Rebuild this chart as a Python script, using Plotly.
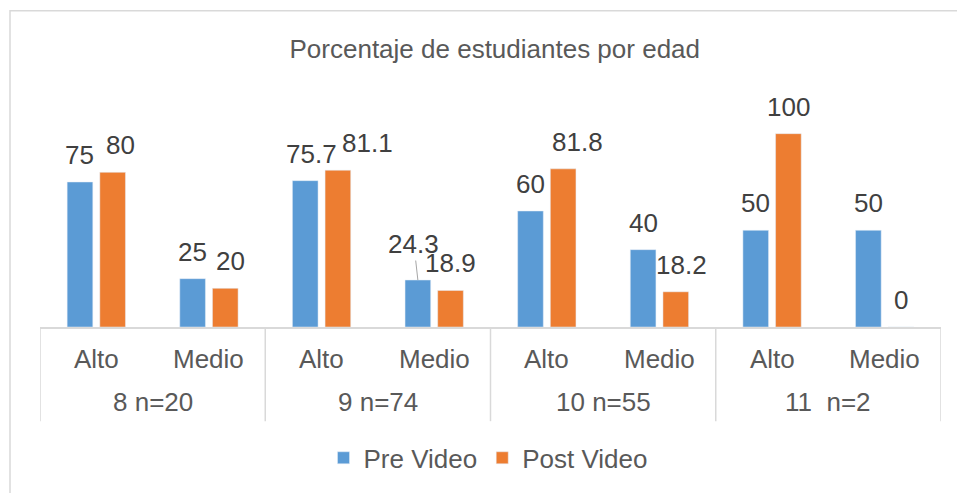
import plotly.graph_objects as go

# ---- data ----
groups = ["8 n=20", "9 n=74", "10 n=55", "11  n=2"]
levels = ["Alto", "Medio"]
pre_video = [75, 25, 75.7, 24.3, 60, 40, 50, 50]
post_video = [80, 20, 81.1, 18.9, 81.8, 18.2, 100, 0]
series_names = ["Pre Video", "Post Video"]

# ---- style ----
BLUE = "#5B9BD5"
ORANGE = "#ED7D31"
GRID = "#D9D9D9"
TXT = "#595959"
LBL = "#404040"
FONT = "Liberation Sans, Arial, sans-serif"
FS = 26

W, H = 957, 493
L, R, T, B = 40, 16, 95, 164
plot_h = H - T - B
BARGAP = 0.42
BARGROUPGAP = 0.215

cats = [(g, lv) for g in groups for lv in levels]
xs = list(range(len(cats)))

fig = go.Figure()
fig.add_trace(go.Bar(x=xs, y=pre_video, name=series_names[0], marker_color=BLUE))
fig.add_trace(go.Bar(x=xs, y=post_video, name=series_names[1], marker_color=ORANGE))

def py(pixel_y):
    # pixel row -> paper y
    return (H - B - pixel_y) / plot_h

def px(pixel_x):
    return (pixel_x - L) / (W - L - R)

annotations = []
off = (1 - BARGAP) / 4.0
# per-label nudges (pixels) for labels that were moved in the original
nudge_pre = {2: 6}
nudge_post = {0: 8, 1: 5, 2: 30, 4: 14, 5: 6}
for i, (a, b) in enumerate(zip(pre_video, post_video)):
    if i == 3:
        annotations.append(dict(x=i - off, y=a, xref="x", yref="y", text=f"{a:g}",
                                showarrow=True, arrowhead=0, arrowwidth=1, arrowcolor="#A6A6A6",
                                ax=-4, ay=-36, font=dict(family=FONT, size=FS, color=LBL)))
    else:
        annotations.append(dict(x=i - off, y=a, xref="x", yref="y", text=f"{a:g}", showarrow=False,
                                yanchor="middle", yshift=27, xshift=nudge_pre.get(i, 0),
                                font=dict(family=FONT, size=FS, color=LBL)))
    annotations.append(dict(x=i + off, y=b, xref="x", yref="y", text=f"{b:g}", showarrow=False,
                            yanchor="middle", yshift=27, xshift=nudge_post.get(i, 0),
                            font=dict(family=FONT, size=FS, color=LBL)))

# category labels (two rows)
for i, (g, lv) in enumerate(cats):
    annotations.append(dict(x=i, y=py(361), xref="x", yref="paper", text=lv, showarrow=False,
                            yanchor="middle", font=dict(family=FONT, size=FS, color=TXT)))
for gi, g in enumerate(groups):
    annotations.append(dict(x=gi * len(levels) + (len(levels) - 1) / 2, y=py(405), xref="x", yref="paper",
                            text=g, showarrow=False, yanchor="middle",
                            font=dict(family=FONT, size=FS, color=TXT)))

shapes = []
# group dividers
for gi in range(len(groups) + 1):
    xb = gi * len(levels) - 0.5
    shapes.append(dict(type="line", xref="x", yref="paper", x0=xb, x1=xb, y0=0, y1=py(424),
                       line=dict(color=GRID, width=1.5)))
# outer chart border
shapes.append(dict(type="rect", xref="paper", yref="paper", x0=px(10), x1=px(1000), y0=py(10), y1=py(600),
                   line=dict(color=GRID, width=1.5), fillcolor="rgba(0,0,0,0)", layer="below"))

fig.update_layout(
    width=W, height=H,
    margin=dict(l=L, r=R, t=T, b=B),
    paper_bgcolor="white", plot_bgcolor="white",
    barmode="group", bargap=BARGAP, bargroupgap=BARGROUPGAP,
    title=dict(text="Porcentaje de estudiantes por edad", x=0.517, xanchor="center",
               y=1 - 49 / H, yanchor="middle", font=dict(family=FONT, size=FS, color=TXT)),
    xaxis=dict(range=[-0.5, len(cats) - 0.5], showticklabels=False, ticks="", showgrid=False,
               zeroline=False, showline=True, linecolor=GRID, linewidth=1.5, fixedrange=True),
    yaxis=dict(range=[0, 120], showticklabels=False, ticks="", showgrid=False, zeroline=False,
               showline=False, fixedrange=True),
    legend=dict(orientation="h", x=px(488), xanchor="center", y=py(461), yanchor="middle",
                font=dict(family=FONT, size=FS, color=TXT), itemwidth=30, bgcolor="rgba(0,0,0,0)"),
    annotations=annotations,
    shapes=shapes,
    font=dict(family=FONT, color=TXT),
)

fig.write_html("out.html", config={"displayModeBar": False},
               post_script="document.body.style.margin='0px';")
